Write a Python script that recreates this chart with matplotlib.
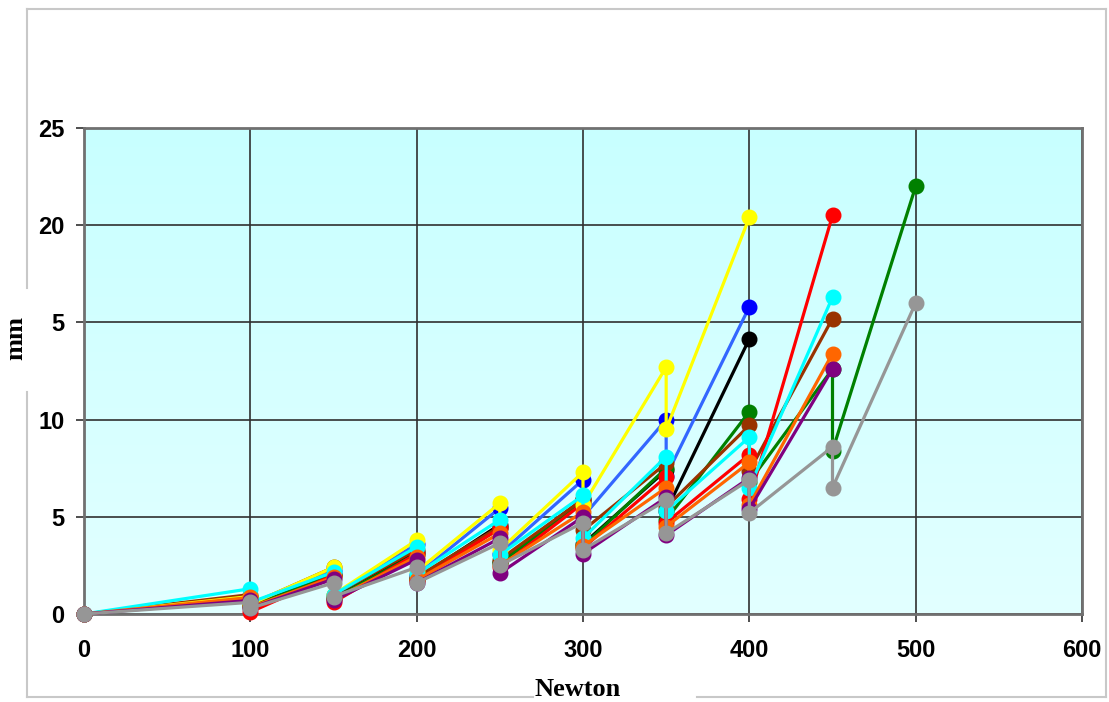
import numpy as np
import matplotlib
matplotlib.use('Agg')
from matplotlib import pyplot as plt
from matplotlib.lines import Line2D
from matplotlib.colors import LinearSegmentedColormap
from matplotlib.font_manager import FontProperties

####

loads = [100, 150, 200, 250, 300, 350, 400, 450, 500]

# reading on arrival at each load step (hi) and the lower reading after it (lo)
yellow_hi = [0.9, 2.4, 3.8, 5.7, 7.3, 12.7, 20.4]
yellow_lo = [0.5, 1.0, 2.2, 3.3, 5.6, 9.5]
blue_hi   = [0.9, 2.2, 3.6, 5.45, 6.9, 10.0, 15.8]
blue_lo   = [0.45, 0.9, 2.0, 3.1, 5.0, 7.1]
black_hi  = [0.8, 2.0, 3.2, 4.6, 5.9, 7.4, 14.15]
black_lo  = [0.4, 0.8, 1.8, 2.7, 3.6, 5.3]
green_hi  = [0.9, 2.0, 3.1, 4.4, 5.8, 7.5, 10.4, 12.6, 22.0]
green_lo  = [0.4, 0.8, 1.8, 2.6, 3.5, 4.85, 6.8, 8.4]
brown_hi  = [1.0, 2.4, 3.3, 4.5, 5.9, 7.75, 9.7, 15.2]
brown_lo  = [0.5, 1.0, 1.9, 2.8, 4.3, 5.5, 7.35]
red_hi    = [0.8, 2.0, 3.1, 4.4, 5.7, 7.05, 8.2, 20.5]
red_lo    = [0.1, 0.6, 1.7, 2.4, 3.4, 4.7, 5.9]
cyan_hi   = [1.3, 2.15, 3.45, 4.85, 6.1, 8.1, 9.1, 16.3]
cyan_lo   = [0.6, 1.0, 2.05, 3.05, 3.9, 5.3, 6.5]
orange_hi = [0.85, 1.9, 2.95, 4.15, 5.25, 6.5, 7.8, 13.4]
orange_lo = [0.35, 0.75, 1.75, 2.5, 3.5, 4.5, 5.6]
purple_hi = [0.7, 1.8, 2.8, 3.9, 5.0, 6.0, 7.0, 12.6]
purple_lo = [0.3, 0.7, 1.6, 2.1, 3.1, 4.05, 5.4]
gray_hi   = [0.6, 1.6, 2.4, 3.65, 4.7, 5.85, 6.9, 8.6, 16.0]
gray_lo   = [0.3, 0.9, 1.6, 2.5, 3.3, 4.15, 5.2, 6.5]

x_ticks = [0, 100, 200, 300, 400, 500, 600]
y_ticks = [0, 5, 10, 15, 20, 25]
y_tick_labels = ['0', '5', '10', '5', '20', '25']  # the "15" is cut to "5" in the original

# (hi, lo, line colour, marker colour), drawn in this order
series = [
  (blue_hi, blue_lo, '#3366FF', '#0000FF'),
  (black_hi, black_lo, '#000000', '#000000'),
  (green_hi, green_lo, '#008000', '#008000'),
  (brown_hi, brown_lo, '#993300', '#993300'),
  (red_hi, red_lo, '#FF0000', '#FF0000'),
  (yellow_hi, yellow_lo, '#FFFF00', '#FFFF00'),
  (cyan_hi, cyan_lo, '#00FFFF', '#00FFFF'),
  (orange_hi, orange_lo, '#FF6600', '#FF6600'),
  (purple_hi, purple_lo, '#800080', '#800080'),
  (gray_hi, gray_lo, '#969696', '#969696'),
]

####

W, H = 1109, 702
fig = plt.figure(figsize=(W / 100, H / 100), dpi=100)

# plot area in pixels
left, right, top, bottom = 84, 1082, 128, 614
ax = fig.add_axes([left / W, (H - bottom) / H, (right - left) / W, (bottom - top) / H])

# outer chart border with gaps behind the axis titles
bc = '#c8c8c8'
bx0, bx1, by0, by1 = 27, 1106, 9, 697
def seg(x0, y0, x1, y1):
  fig.add_artist(Line2D([x0 / W, x1 / W], [1 - y0 / H, 1 - y1 / H], color=bc, lw=1.5, zorder=-5))
seg(bx0, by0, bx1, by0)
seg(bx1, by0, bx1, by1)
seg(bx0, by0, bx0, 288)
seg(bx0, 392, bx0, by1)
seg(bx0, by1, 533, by1)
seg(697, by1, bx1, by1)

# light cyan gradient background
grad = np.linspace(0, 1, 256).reshape(-1, 1)
cmap = LinearSegmentedColormap.from_list('bg', ['#E2FFFF', '#C8FFFF'])
ax.imshow(grad, cmap=cmap, aspect='auto', extent=[0, 600, 25, 0], zorder=0)

for hi, lo, lc, mc in series:
  xs, ys = [0], [0]
  for i in range(len(hi)):
    xs.append(loads[i]); ys.append(hi[i])
    if i < len(lo):
      xs.append(loads[i]); ys.append(lo[i])
  ax.plot(xs, ys, '-', color=lc, lw=2.3, marker='o', ms=10.5,
          markerfacecolor=mc, markeredgecolor=mc, clip_on=False, zorder=3)

ax.set_xlim(0, 600)
ax.set_ylim(0, 25)
ax.set_xticks(x_ticks)
ax.set_yticks(y_ticks)
ax.set_yticklabels(y_tick_labels)
ax.grid(True, color='#303030', lw=1.2, zorder=1)
ax.set_axisbelow(True)

for s in ax.spines.values():
  s.set_color('#707070')
  s.set_linewidth(2)

tick_fp = FontProperties(family='Liberation Sans', weight='bold', size=17)
for lab in ax.get_xticklabels() + ax.get_yticklabels():
  lab.set_fontproperties(tick_fp)
ax.tick_params(axis='both', direction='out', length=6, width=1.2, color='#303030')
ax.tick_params(axis='x', pad=12)
ax.tick_params(axis='y', pad=8)

fig.text(578 / W, 1 - 689 / H, 'Newton', family='Liberation Serif', weight='bold',
         size=19, ha='center', va='center')
fig.text(16 / W, 1 - 338 / H, 'mm', family='Liberation Serif', weight='bold',
         size=19, ha='center', va='center', rotation=90)

fig.savefig('out.png', dpi=100)
